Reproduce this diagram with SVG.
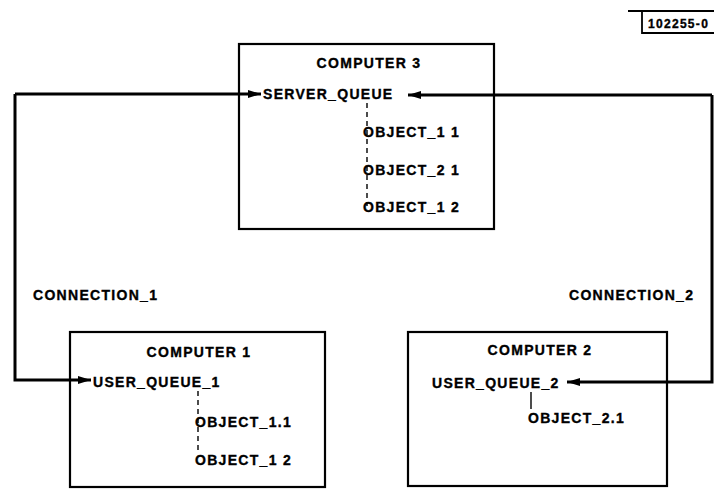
<svg xmlns="http://www.w3.org/2000/svg" width="715" height="490" viewBox="0 0 715 490">
  <style>
    text { font-family: "Liberation Sans", Arial, sans-serif; font-weight: bold; font-size: 14px; fill: #000; stroke: #000; stroke-width: 0.35px; letter-spacing: 1.3px; }
    .box { fill: none; stroke: #000; stroke-width: 2.2; }
    .wire { fill: none; stroke: #000; stroke-width: 3; stroke-linejoin: miter; }
    .dash { fill: none; stroke: #000; stroke-width: 1.4; stroke-dasharray: 5 4; }
    .tie { fill: none; stroke: #000; stroke-width: 1.4; }
    .mid { text-anchor: middle; }
  </style>
  <defs>
    <marker id="head" viewBox="0 0 13 8" refX="13" refY="4" markerWidth="13" markerHeight="8" markerUnits="userSpaceOnUse" orient="auto">
      <path d="M0,0 L13,4 L0,8 Z" fill="#000"/>
    </marker>
  </defs>

  <rect width="715" height="490" fill="#fff"/>

  <!-- drawing number tag -->
  <g id="tag">
    <path d="M628,11 L714,11 M642,11 L642,33 L714,33" fill="none" stroke="#000" stroke-width="1.8"/>
    <text x="648" y="28" style="font-size:12px;letter-spacing:1.3px">102255-0</text>
  </g>

  <!-- links between the machines -->
  <g id="connectors">
    <polyline class="wire" points="15,94 15,380 91,380" marker-end="url(#head)"/>
    <polyline class="wire" points="15,94 261,94" marker-end="url(#head)"/>
    <polyline class="wire" points="712,95 408,95" marker-end="url(#head)"/>
    <polyline class="wire" points="712,95 712,382 567,382" marker-end="url(#head)"/>
  </g>

  <g id="computer3">
    <rect class="box" x="239" y="44" width="255" height="185"/>
    <text class="mid" x="369" y="68">COMPUTER 3</text>
    <text x="263" y="99">SERVER_QUEUE</text>
    <line class="dash" x1="367" y1="103" x2="367" y2="206"/>
    <text x="363" y="137">OBJECT_1 1</text>
    <text x="363" y="175">OBJECT_2 1</text>
    <text x="363" y="212">OBJECT_1 2</text>
  </g>

  <g id="label_connection1">
    <text x="33" y="300">CONNECTION_1</text>
  </g>
  <g id="label_connection2">
    <text x="569" y="300">CONNECTION_2</text>
  </g>

  <g id="computer1">
    <rect class="box" x="70" y="332" width="255" height="155"/>
    <text class="mid" x="199" y="357">COMPUTER 1</text>
    <text x="93" y="387">USER_QUEUE_1</text>
    <line class="dash" x1="198" y1="391" x2="198" y2="452"/>
    <text x="195" y="427">OBJECT_1.1</text>
    <text x="195" y="465">OBJECT_1 2</text>
  </g>

  <g id="computer2">
    <rect class="box" x="408" y="332" width="259" height="154"/>
    <text class="mid" x="540" y="355">COMPUTER 2</text>
    <text x="432" y="388">USER_QUEUE_2</text>
    <line class="tie" x1="531" y1="392" x2="531" y2="409"/>
    <text x="528" y="423">OBJECT_2.1</text>
  </g>
</svg>
